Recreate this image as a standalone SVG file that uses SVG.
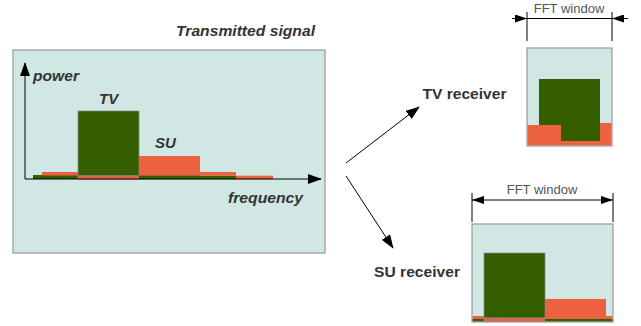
<svg xmlns="http://www.w3.org/2000/svg" width="641" height="326" viewBox="0 0 641 326">
<defs>
<style>
.bg{fill:#d0e7e4;stroke:#999;stroke-width:1.2}
.g{fill:#355e00}
.o{fill:#ec6140}
.gs{fill:#355e00;stroke:#888;stroke-width:0.7}
.os{fill:#ec6140;stroke:#888;stroke-width:0.7}
.lbl{font-family:"Liberation Sans",Arial,sans-serif;font-weight:bold;font-style:italic;font-size:15px;fill:#333}
.rx{font-family:"Liberation Sans",Arial,sans-serif;font-weight:bold;font-size:15px;fill:#333}
.fft{font-family:"Liberation Sans",Arial,sans-serif;font-size:13px;fill:#555}
.ln{stroke:#000;stroke-width:1;fill:none}
</style>
<marker id="ah" markerWidth="14" markerHeight="10" refX="13" refY="5" orient="auto" markerUnits="userSpaceOnUse">
<path d="M0,0 L14,5 L0,10 Z" fill="#000"/>
</marker>
<marker id="sm" markerWidth="12" markerHeight="8" refX="12" refY="4" orient="auto" markerUnits="userSpaceOnUse">
<path d="M0,0 L12,4 L0,8 Z" fill="#000"/>
</marker>
<marker id="sms" markerWidth="12" markerHeight="8" refX="0" refY="4" orient="auto" markerUnits="userSpaceOnUse">
<path d="M12,0 L0,4 L12,8 Z" fill="#000"/>
</marker>
</defs>
<text x="176" y="35.5" class="lbl" style="font-size:15.5px" textLength="139" lengthAdjust="spacingAndGlyphs">Transmitted signal</text>
<g id="transmitted">
<rect class="bg" x="13" y="50" width="312" height="203"/>
<rect class="g" x="33" y="175" width="45" height="4"/>
<rect class="o" x="42" y="172" width="36" height="3.5"/>
<rect class="gs" x="78" y="111" width="61" height="65"/>
<rect class="os" x="78" y="175.7" width="61" height="3.5"/>
<rect class="o" x="139" y="156" width="61" height="20"/>
<rect class="g" x="139" y="175.7" width="97" height="3.5"/>
<rect class="o" x="200" y="172" width="36" height="3.7"/>
<rect class="o" x="236" y="175.7" width="37" height="3.5"/>
<line class="ln" x1="25" y1="179" x2="25" y2="63" marker-end="url(#ah)"/>
<line class="ln" x1="25" y1="179" x2="321" y2="179" marker-end="url(#ah)"/>
<text x="33" y="81" class="lbl" textLength="46" lengthAdjust="spacingAndGlyphs">power</text>
<text x="99" y="104" class="lbl">TV</text>
<text x="155" y="148" class="lbl">SU</text>
<text x="228" y="203" class="lbl" textLength="75" lengthAdjust="spacingAndGlyphs">frequency</text>
</g>
<g id="connectors">
<line class="ln" x1="346" y1="163" x2="419" y2="107" marker-end="url(#ah)"/>
<line class="ln" x1="346" y1="176" x2="393" y2="248" marker-end="url(#ah)"/>
</g>
<g id="tv-receiver">
<text x="422.5" y="98.5" class="rx" textLength="84" lengthAdjust="spacingAndGlyphs">TV receiver</text>
<rect class="bg" x="527" y="48" width="85" height="98"/>
<rect class="g" x="539" y="79" width="61" height="62"/>
<rect class="o" x="527.6" y="125" width="33.4" height="20.4"/>
<rect class="o" x="600" y="123" width="11.4" height="22.4"/>
<rect class="o" x="561" y="141" width="39" height="4.4"/>
<line class="ln" x1="527" y1="12" x2="527" y2="41"/>
<line class="ln" x1="612" y1="12" x2="612" y2="41"/>
<line class="ln" x1="512" y1="18.5" x2="527" y2="18.5" marker-end="url(#sm)"/>
<line class="ln" x1="628" y1="18.5" x2="612" y2="18.5" marker-end="url(#sm)"/>
<line class="ln" x1="527" y1="18.5" x2="612" y2="18.5"/>
<text x="569" y="13" class="fft" text-anchor="middle">FFT window</text>
</g>
<g id="su-receiver">
<text x="374" y="276.5" class="rx" textLength="86" lengthAdjust="spacingAndGlyphs">SU receiver</text>
<rect class="bg" x="472" y="224" width="141" height="98"/>
<rect class="o" x="472.6" y="316" width="11.4" height="3"/>
<rect class="g" x="472.6" y="319" width="11.4" height="2.4"/>
<rect class="gs" x="484" y="253" width="61" height="65"/>
<rect class="os" x="484" y="318" width="61" height="3.4"/>
<rect class="o" x="545" y="299" width="61" height="20"/>
<rect class="o" x="606" y="316" width="6.4" height="3"/>
<rect class="g" x="545" y="319" width="67.4" height="2.4"/>
<line class="ln" x1="472" y1="193" x2="472" y2="222"/>
<line class="ln" x1="613" y1="193" x2="613" y2="222"/>
<line class="ln" x1="472" y1="200" x2="613" y2="200" marker-start="url(#sms)" marker-end="url(#sm)"/>
<text x="542" y="194" class="fft" text-anchor="middle">FFT window</text>
</g>
</svg>
